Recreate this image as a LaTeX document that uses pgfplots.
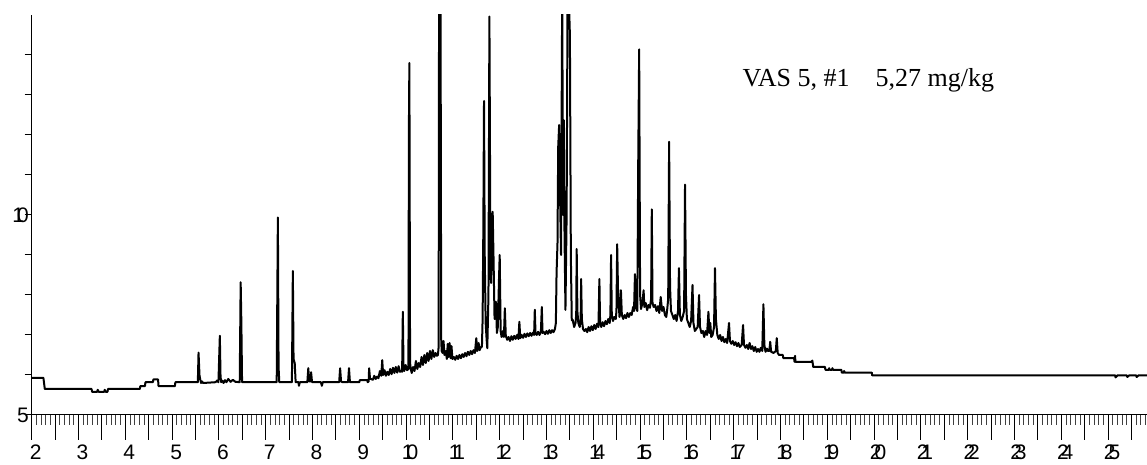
\documentclass[border=0pt]{standalone}
\usepackage{fontspec}
\setmainfont{Liberation Sans}
\newfontfamily\timesfont{Liberation Serif}
\usepackage{pgfplots}
\pgfplotsset{compat=1.18}
% two-digit labels in the reference have their digits run together
\newcommand\ov[2]{#1\kern-0.34em#2}

\begin{document}
\begin{tikzpicture}
\useasboundingbox (0,0) rectangle (573.5pt,232.5pt);
\pgfplotsset{chrom/.style={
  scale only axis, width=558.09pt, height=200pt,
  at={(15.85pt,25pt)}, anchor=south west,
  xmin=2, xmax=25.85, ymin=5, ymax=15,
  axis line style={line width=0.5pt},
  tick style={black, line width=0.5pt},
  ticklabel style={font=\fontsize{10.5}{12}\selectfont},
}}
% x axis and trace
\begin{axis}[chrom,
  axis x line*=bottom, axis y line*=left,
  xtick align=outside, ytick align=outside,
  ytick=\empty,
  xtick={2,...,25},
  xticklabels={2,3,4,5,6,7,8,9,\ov10,\ov11,\ov12,\ov13,\ov14,\ov15,\ov16,\ov17,\ov18,\ov19,\ov20,\ov21,\ov22,\ov23,\ov24,\ov25},
  xticklabel style={xshift=2pt, yshift=1pt},
  extra x ticks={2.5,3.5,...,25.5},
  extra x tick labels={},
  minor xtick={2.0,2.1,...,25.85},
  major tick length=12.5pt,
  minor tick length=5pt,
  minor tick style={black!75, line width=0.45pt},
]
\addplot[black, line width=1pt, line join=round, mark=none] coordinates {
(2.0,5.93) (2.25,5.93) (2.28,5.65) (3.28,5.65) (3.29,5.58) (3.40,5.58) (3.41,5.63) (3.43,5.58)
(3.55,5.58) (3.56,5.63) (3.58,5.58) (3.62,5.58) (3.63,5.65) (4.31,5.65) (4.32,5.72) (4.42,5.72)
(4.43,5.82) (4.59,5.82) (4.60,5.89) (4.70,5.89) (4.71,5.72) (5.06,5.72) (5.07,5.82) (5.55,5.82)
(5.565,6.56) (5.585,6.0) (5.60,5.89) (5.62,5.80) (5.64,5.84) (5.66,5.80) (5.93,5.82) (5.96,5.86)
(5.99,5.82) (6.005,6.4) (6.02,6.98) (6.035,5.95) (6.05,5.82) (6.07,5.86) (6.10,5.80) (6.13,5.87)
(6.16,5.82) (6.20,5.90) (6.25,5.83) (6.30,5.88) (6.35,5.83) (6.445,5.82) (6.465,8.32) (6.48,7.3)
(6.495,5.82) (7.235,5.82) (7.26,9.94) (7.275,6.2) (7.29,5.82) (7.56,5.82) (7.58,8.6) (7.595,6.4)
(7.62,6.3) (7.64,5.82) (7.70,5.82) (7.71,5.73) (7.73,5.82) (7.89,5.82) (7.91,6.17) (7.93,5.84)
(7.96,5.84) (7.97,6.07) (7.99,5.82) (8.18,5.82) (8.20,5.73) (8.22,5.82) (8.57,5.82) (8.59,6.17)
(8.61,5.84) (8.64,5.82) (8.76,5.82) (8.78,6.17) (8.80,5.82) (9.00,5.82) (9.01,5.87) (9.17,5.87)
(9.18,5.82) (9.20,5.84) (9.21,6.17) (9.23,5.9)
(9.25,5.9) (9.29,5.88) (9.32,5.98) (9.35,5.9) (9.38,5.96) (9.41,5.92) (9.44,6.1) (9.47,5.98)
(9.49,6.37) (9.51,6.0) (9.54,6.12) (9.57,5.98) (9.6,6.08) (9.63,6.0) (9.66,6.15) (9.69,6.02)
(9.72,6.18) (9.75,6.05) (9.78,6.2) (9.81,6.06) (9.84,6.22) (9.87,6.08) (9.9,6.1)
(9.915,6.08) (9.93,7.58) (9.945,6.2) (9.96,6.1) (9.99,6.25) (10.02,6.12) (10.05,6.15)
(10.06,12.2) (10.07,13.8) (10.085,6.3) (10.10,6.15)
(10.12,6.05) (10.15,6.2) (10.18,6.1) (10.21,6.35) (10.24,6.15) (10.27,6.3) (10.3,6.2) (10.33,6.45)
(10.36,6.25) (10.39,6.5) (10.42,6.3) (10.45,6.55) (10.48,6.35) (10.51,6.6) (10.54,6.4) (10.57,6.62)
(10.6,6.45) (10.63,6.55) (10.66,6.48)
(10.68,6.5) (10.695,6.7) (10.705,16) (10.735,16) (10.75,6.9) (10.76,6.6)
(10.78,6.55) (10.8,6.85) (10.82,6.5) (10.85,6.6) (10.87,6.4) (10.89,6.78) (10.91,6.45) (10.93,6.8)
(10.95,6.42) (10.97,6.72) (10.99,6.4) (11.02,6.45) (11.05,6.38) (11.08,6.48) (11.11,6.4) (11.14,6.5)
(11.17,6.42) (11.2,6.52) (11.23,6.45) (11.26,6.55) (11.29,6.47) (11.32,6.58) (11.35,6.5) (11.38,6.6)
(11.41,6.52) (11.44,6.62) (11.47,6.55) (11.5,6.92) (11.52,6.6) (11.55,6.8) (11.57,6.62) (11.6,6.7)
(11.62,6.7) (11.635,7.4) (11.65,9.62) (11.665,12.85) (11.68,9.0) (11.7,7.3) (11.72,6.9) (11.735,6.67)
(11.76,8.0) (11.78,14.96) (11.80,9.5) (11.815,8.3) (11.835,9.2) (11.85,10.08) (11.87,8.8) (11.89,7.4)
(11.92,7.83) (11.94,7.05) (11.96,7.2) (11.985,8.4) (12.0,9.0) (12.02,7.1) (12.04,6.95) (12.07,7.1)
(12.09,6.95) (12.11,7.67) (12.13,6.98)
(12.16,6.88) (12.19,6.95) (12.22,6.85) (12.25,6.97) (12.28,6.88) (12.31,6.98) (12.34,6.9) (12.37,7.0)
(12.4,6.9) (12.42,7.33) (12.44,6.92) (12.47,7.0) (12.5,6.93) (12.53,7.03) (12.56,6.95) (12.59,7.04)
(12.62,6.97) (12.65,7.05) (12.68,6.98) (12.71,7.06) (12.735,7.0) (12.75,7.63) (12.765,7.05) (12.79,7.0)
(12.82,7.08) (12.85,7.0) (12.88,7.08) (12.9,7.7) (12.915,7.05) (12.94,7.08) (12.97,7.02) (13.0,7.1)
(13.03,7.03) (13.06,7.12) (13.09,7.05) (13.12,7.12) (13.15,7.07) (13.18,7.15)
(13.2,7.3) (13.215,8.55) (13.235,9.3) (13.25,11.7) (13.27,12.25) (13.29,10.5) (13.31,9.0) (13.335,15.5)
(13.355,10.0) (13.37,12.37) (13.385,9.5) (13.405,7.63) (13.43,10.0) (13.45,15.5) (13.475,15.5) (13.5,14.5)
(13.52,9.0) (13.54,7.37) (13.56,7.38) (13.59,7.2) (13.62,7.3) (13.635,7.5) (13.645,9.15) (13.66,7.6)
(13.68,7.3) (13.71,7.2) (13.73,7.4) (13.74,8.4) (13.755,7.4) (13.78,7.15) (13.81,7.1) (13.84,7.15)
(13.87,7.07) (13.9,7.2) (13.93,7.1) (13.96,7.22) (13.99,7.12) (14.02,7.25) (14.05,7.15) (14.08,7.28)
(14.11,7.2) (14.13,8.4) (14.145,7.3) (14.17,7.2) (14.2,7.32) (14.23,7.22) (14.26,7.35) (14.29,7.27)
(14.32,7.4) (14.35,7.3) (14.365,7.5) (14.38,9.0) (14.395,7.5) (14.42,7.35) (14.45,7.45) (14.48,7.4)
(14.495,7.6) (14.51,9.27) (14.53,8.0) (14.56,7.45) (14.59,8.12) (14.61,7.5) (14.64,7.4) (14.67,7.5)
(14.7,7.42) (14.73,7.55) (14.76,7.45) (14.79,7.55) (14.82,7.5) (14.85,7.7) (14.87,7.6) (14.89,8.52)
(14.91,7.7) (14.94,7.6) (14.96,11.33) (14.98,14.14) (15.0,8.0) (15.02,7.65) (15.05,7.8) (15.075,8.12)
(15.09,7.7) (15.12,7.8) (15.15,7.62) (15.18,7.75) (15.21,7.68) (15.235,7.9) (15.25,10.14) (15.265,7.8)
(15.29,7.7) (15.32,7.75) (15.35,7.6) (15.38,7.72) (15.41,7.55) (15.44,7.95) (15.47,7.6) (15.5,7.7)
(15.53,7.5) (15.56,7.45) (15.58,7.65) (15.6,7.9) (15.62,11.83) (15.64,8.2) (15.66,7.6) (15.69,7.5)
(15.72,7.4) (15.75,7.5) (15.78,7.35) (15.81,7.6) (15.83,8.67) (15.85,7.5) (15.88,7.35) (15.91,7.45)
(15.94,7.6) (15.96,10.76) (15.98,8.0) (16.0,7.4) (16.03,7.3) (16.06,7.2) (16.09,7.35) (16.12,8.25)
(16.14,7.3) (16.17,7.1) (16.2,7.15) (16.23,7.2) (16.26,8.0) (16.28,7.2) (16.31,7.05) (16.34,7.1)
(16.37,6.95) (16.4,7.1) (16.43,7.0) (16.46,7.58) (16.48,7.05) (16.5,7.3) (16.52,6.95) (16.55,7.0)
(16.58,7.2) (16.6,8.67) (16.62,7.4) (16.65,7.0) (16.68,6.9) (16.71,7.0) (16.74,6.85) (16.77,6.95)
(16.8,6.82) (16.83,6.9) (16.86,6.8) (16.9,7.3) (16.92,6.85) (16.95,6.78) (16.98,6.85) (17.01,6.75)
(17.04,6.82) (17.07,6.72) (17.1,6.8) (17.13,6.7) (17.17,6.75) (17.2,7.25) (17.22,6.75) (17.25,6.68)
(17.28,6.75) (17.31,6.65) (17.34,6.8) (17.37,6.65) (17.4,6.72) (17.43,6.6) (17.46,6.7) (17.49,6.58)
(17.52,6.65) (17.55,6.58) (17.58,6.68) (17.61,6.6) (17.635,7.77) (17.655,6.75) (17.68,6.58) (17.71,6.66)
(17.73,6.6) (17.76,6.6) (17.78,6.83) (17.8,6.58) (17.85,6.55) (17.9,6.6) (17.92,6.92) (17.94,6.55)
(17.97,6.5) (18.05,6.5) (18.06,6.42) (18.29,6.42) (18.3,6.33) (18.31,6.48) (18.32,6.33) (18.66,6.33)
(18.68,6.36) (18.7,6.2) (18.95,6.2) (18.96,6.13) (19.03,6.13) (19.04,6.17) (19.05,6.13) (19.1,6.13)
(19.11,6.17) (19.12,6.13) (19.3,6.13) (19.31,6.06) (19.35,6.06) (19.36,6.1) (19.37,6.06) (19.95,6.06)
(19.96,5.99) (25.15,5.99) (25.16,5.94) (25.2,5.99) (25.4,5.99) (25.41,5.95) (25.45,5.99) (25.6,5.99)
(25.61,5.95) (25.65,5.99) (25.85,5.99)
};
\node[anchor=base west, inner sep=0pt, font=\timesfont\fontsize{13}{15}\selectfont]
  at (axis cs:17.18,13.21) {VAS 5, \#1\hspace{1em}5,27 mg/kg};
\end{axis}
% y axis ticks (shorter than the x ticks)
\begin{axis}[chrom,
  axis x line=none, axis y line*=left,
  ytick align=outside,
  xtick=\empty,
  ytick={5,...,14},
  yticklabels={5,,,,,\ov10,,,,},
  major tick length=3.5pt,
  yticklabel style={anchor=east, inner sep=0pt, xshift=2.2pt},
]
\end{axis}
\end{tikzpicture}
\end{document}
